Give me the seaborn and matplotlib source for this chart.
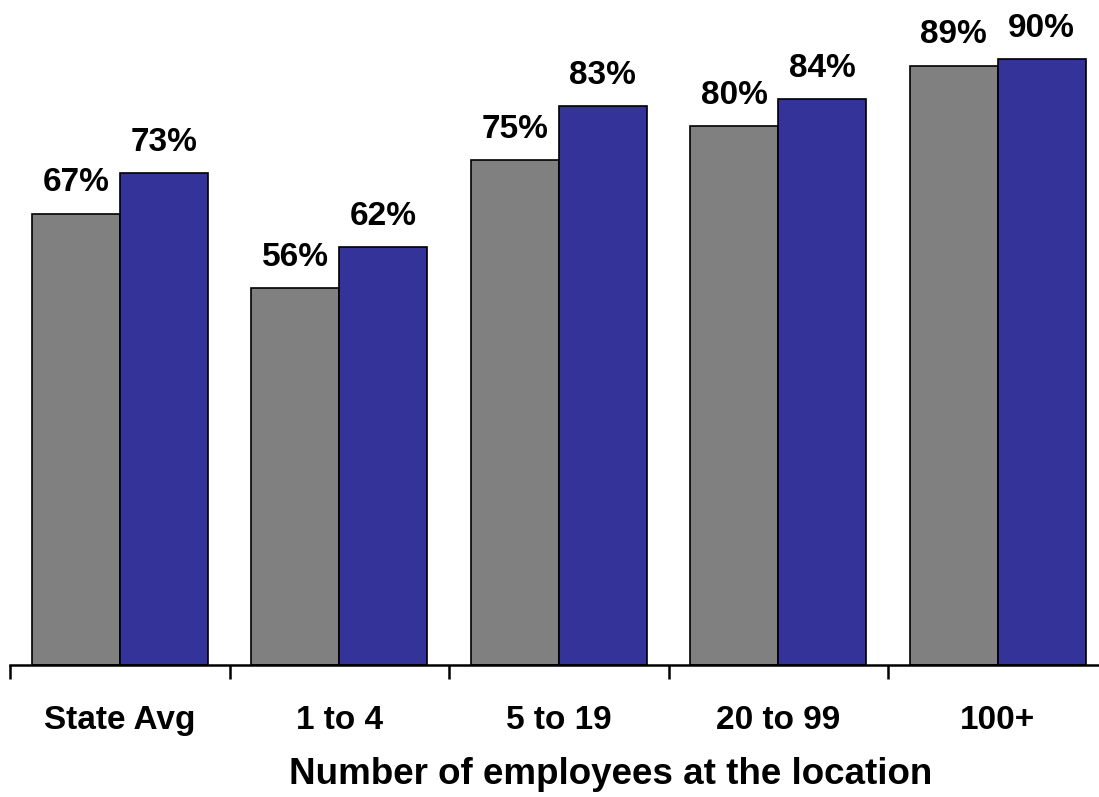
import numpy as np
import pandas as pd
import matplotlib
matplotlib.use('Agg')
import matplotlib.pyplot as plt
import seaborn as sns

# ---------------------------------------------------------
# data
# ---------------------------------------------------------
categories = ['State Avg', '1 to 4', '5 to 19', '20 to 99', '100+']
series_names = ['Earlier', 'Later']
earlier = [67, 56, 75, 80, 89]
later = [73, 62, 83, 84, 90]
colors = ['#808080', '#333399']

df = pd.DataFrame({
    'group': categories * 2,
    'series': [series_names[0]] * len(categories) + [series_names[1]] * len(categories),
    'value': earlier + later,
})

# ---------------------------------------------------------
# style
# ---------------------------------------------------------
sns.set_style('white')
plt.rcParams['font.family'] = ['Liberation Sans', 'DejaVu Sans']
plt.rcParams['font.weight'] = 'bold'
plt.rcParams['text.color'] = 'black'
plt.rcParams['xtick.color'] = 'black'
plt.rcParams['axes.labelcolor'] = 'black'

fig = plt.figure(figsize=(10.99, 7.97), dpi=100)
ax = fig.add_axes([10 / 1099, 132 / 797, 1097.5 / 1099, 660 / 797])

sns.barplot(data=df, x='group', y='value', hue='series', order=categories,
            hue_order=series_names, palette=colors, width=0.8,
            edgecolor='black', linewidth=1.2, saturation=1, ax=ax, legend=False)

# value labels above bars
for cont in ax.containers:
    ax.bar_label(cont, labels=[f'{v:.0f}%' for v in cont.datavalues],
                 padding=11, fontsize=24, fontweight='bold', color='black')

ax.set_xlim(-0.5, len(categories) - 0.5)
ax.set_ylim(0, 98)

# only the bottom axis line, ticks between the groups
for side in ['top', 'right', 'left']:
    ax.spines[side].set_visible(False)
ax.spines['bottom'].set_linewidth(1.8)
ax.spines['bottom'].set_color('black')
ax.set_yticks([])
ax.set_xticks(np.arange(-0.5, len(categories) + 0.5, 1), minor=True)
ax.tick_params(axis='x', which='both', bottom=True)
ax.tick_params(axis='x', which='minor', length=10, width=1.8, color='black', direction='out')
ax.tick_params(axis='x', which='major', length=0, pad=29, labelsize=24, labelcolor='black')
for lbl in ax.get_xticklabels():
    lbl.set_fontweight('bold')

ax.set_xlabel('Number of employees at the location', fontsize=26.5,
              fontweight='bold', color='black')
ax.xaxis.set_label_coords((611 - 10) / 1097.5, -0.139)
ax.set_ylabel('')

fig.savefig('out.png', dpi=100)
